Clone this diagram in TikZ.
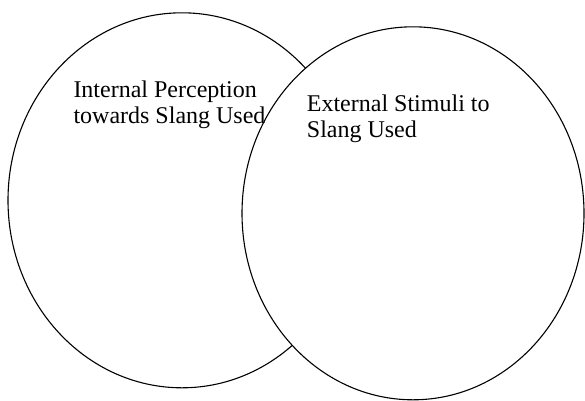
\documentclass[tikz,border=0pt]{standalone}
\usepackage{fontspec}
\setmainfont{Liberation Serif}
\usepackage{tikz}
\usetikzlibrary{shapes.geometric,positioning}

\begin{document}
\begin{tikzpicture}[
  x=1pt,y=-1pt,
  set/.style={ellipse,draw=black,line width=1.1pt,fill=white,inner sep=0pt},
  lab/.style={font=\fontsize{24}{26}\selectfont,align=left,anchor=north west,inner sep=0pt}
]
  \useasboundingbox (0,0) rectangle (585,400);
  \node[set,minimum width=348pt,minimum height=375pt] (internal) at (182,200.3) {};
  \node[set,minimum width=342pt,minimum height=373pt] (external) at (413,213.3) {};
  \node[lab] (intlab) at (73.3,81) {Internal Perception\\towards Slang Used};
  \node[lab] (extlab) at (306.7,94.3) {External Stimuli to\\Slang Used};
\end{tikzpicture}
\end{document}
